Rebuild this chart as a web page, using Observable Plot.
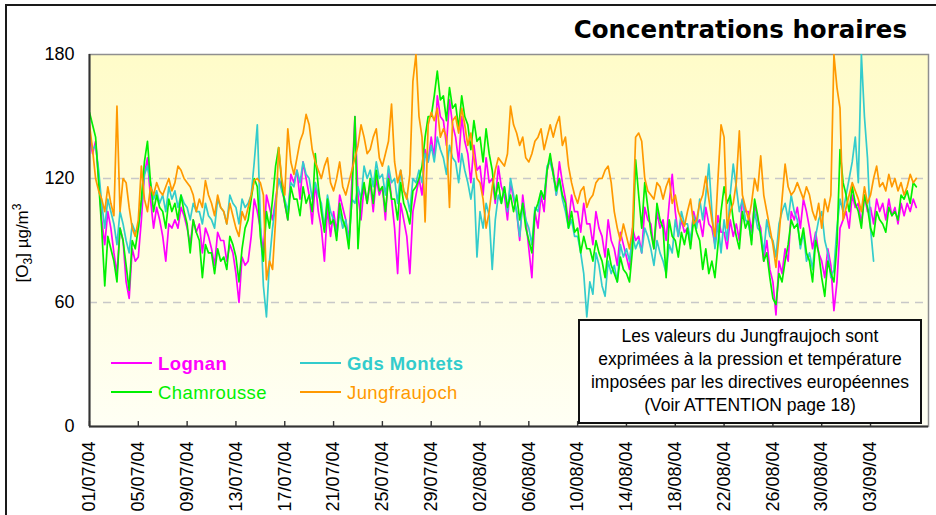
<!DOCTYPE html>
<html><head><meta charset="utf-8">
<script src="https://cdn.jsdelivr.net/npm/d3@7"></script>
<script src="https://cdn.jsdelivr.net/npm/@observablehq/plot@0.6"></script>
<style>html,body{margin:0;padding:0;background:#fff;overflow:hidden}svg{display:block}</style>
</head><body><div id="chart"></div>
<script>
// ---- data (values every 6 hours from 01/07/2004 00:00) ----
const stepHours = 6;
const seriesNames = ["Lognan", "Gds Montets", "Chamrousse", "Jungfraujoch"];
const seriesColors = ["#ff00ff", "#33cccc", "#00f000", "#ff9900"];

const lognan = [
140,132,138,120, 100,88,104,96, 84,74,96,90, 70,62,86,80, 82,100,122,130,
110,96,106,100, 92,80,98,96, 100,96,106,102, 96,88,100,94, 98,84,96,92,
86,78,94,90, 90,80,88,84, 74,60,82,78, 80,92,110,104, 96,84,112,106,
100,110,120,116, 108,100,122,118, 124,110,128,120, 112,98,118,104, 96,80,106,92,
104,94,112,106, 100,90,118,150, 112,100,116,108, 118,104,120,112, 116,100,124,110,
96,74,108,100, 92,74,104,112, 120,112,134,128, 140,130,160,150, 148,136,158,146,
140,128,150,138, 132,118,136,124, 126,112,130,118, 120,108,126,116, 112,100,118,110,
104,90,112,100, 86,72,104,96, 112,104,124,130, 124,112,128,118, 110,98,112,104,
104,94,108,98, 98,88,104,96, 92,82,100,90, 86,78,94,88, 82,76,96,90,
92,84,106,100, 98,86,104,96, 100,90,108,122, 104,92,100,94, 96,88,104,98,
100,92,106,98, 96,88,102,94, 94,86,100,92, 98,90,110,104, 104,94,108,100,
96,80,90,76, 70,54,80,74, 86,80,104,100, 106,96,110,104, 96,86,94,84,
80,72,86,78, 56,70,96,100, 104,96,112,106, 108,98,112,104, 106,98,110,104,
108,100,110,102, 106,98,108,102, 108,104,110,106
];
const gdsMontets = [
142,134,136,124, 108,96,110,104, 98,88,104,98, 90,84,98,94, 96,108,122,126,
118,110,114,108, 112,104,116,110, 114,106,112,108, 106,100,108,104, 104,98,108,102,
100,96,110,106, 104,98,112,108, 106,98,110,106, 108,112,128,146, 100,68,53,80,
96,108,120,114, 110,104,118,116, 124,118,128,122, 120,110,118,112, 108,96,112,104,
100,92,104,96, 100,88,110,108, 116,110,126,120, 124,116,128,120, 122,112,126,118,
120,108,124,114, 112,104,120,118, 124,118,132,128, 136,128,140,134, 130,122,136,130,
128,118,132,124, 118,110,120,82, 104,96,108,102, 76,100,112,108, 116,104,120,112,
104,92,108,100, 96,88,106,104, 114,110,126,128, 122,112,120,110, 104,96,100,92,
92,84,74,53, 70,64,84,78, 68,63,80,74, 78,70,88,82, 86,80,92,86,
90,84,96,92, 86,78,90,84, 80,74,88,84, 100,92,104,98, 98,90,102,96,
110,100,112,127, 104,86,98,84, 100,90,112,127, 116,104,110,100, 98,90,104,96,
94,84,100,92, 90,82,98,104, 108,100,112,104, 100,86,94,80, 84,76,92,100,
104,90,84,72, 76,96,110,104, 112,120,128,140, 118,180,150,130, 96,80
];
const chamrousse = [
152,146,140,118, 96,68,92,86, 80,70,96,90, 78,66,90,86, 96,110,128,138,
118,104,112,106, 104,96,110,104, 108,100,112,104, 98,84,100,94, 90,72,88,84,
84,74,86,80, 82,76,92,88, 82,70,86,96, 100,110,120,116, 92,80,104,96,
110,126,135,118, 108,100,116,110, 110,102,116,108, 112,104,132,116, 104,94,110,98,
100,90,108,100, 96,86,110,150, 86,110,118,108, 120,108,124,114, 116,104,120,110,
110,100,118,108, 104,98,114,116, 120,126,140,150, 150,160,172,158, 160,148,164,154,
156,144,160,150, 146,134,148,138, 140,128,144,132, 124,110,118,108, 116,106,112,104,
112,100,108,96, 90,84,104,108, 114,110,124,132, 122,114,120,112, 108,96,104,94,
96,84,92,86, 86,80,90,84, 80,72,86,78, 74,70,82,76, 74,70,86,129,
112,96,118,106, 94,86,108,100, 96,72,100,92, 90,82,94,88, 96,86,100,94,
90,76,86,74, 80,72,88,104, 116,108,112,100, 92,86,104,96, 100,88,110,102,
92,80,84,72, 62,59,74,70, 80,88,100,96, 98,88,96,84, 80,70,90,84,
72,63,80,74, 70,88,134,118, 112,104,116,108, 104,96,112,106, 96,92,104,100,
98,94,106,102, 104,100,112,110, 114,108,118,116
];
const jungfraujoch = [
146,134,120,114, 110,104,116,108, 102,155,104,120, 118,106,96,92, 100,126,110,104,
116,112,118,114, 112,116,120,114, 118,126,124,120, 118,116,112,104, 110,106,119,112,
108,102,112,106, 104,98,108,102, 96,92,104,100, 106,112,119,120, 118,112,71,80,
76,100,135,120, 112,144,128,122, 130,138,142,151, 146,134,128,124, 120,126,130,118,
114,120,128,116, 112,118,124,130, 136,146,140,132, 134,140,144,130, 126,132,138,156,
128,118,124,114, 110,122,167,180, 150,140,99,146, 152,148,154,140, 144,140,106,148,
150,142,154,146, 136,142,130,120, 118,110,96,104, 116,124,130,128, 126,132,155,146,
142,136,140,130, 128,132,138,140, 144,134,140,146, 140,146,150,136, 140,126,118,112,
108,114,116,106, 110,112,118,120, 120,124,126,118, 104,96,90,98, 92,86,96,140,
142,138,120,114, 112,110,118,116, 110,116,120,108, 112,104,100,97, 104,110,98,100,
108,112,121,110, 100,92,120,146, 140,96,104,108, 118,143,112,106, 100,108,120,114,
131,112,104,96, 88,77,92,110, 127,116,112,114, 118,114,110,116, 112,104,100,108,
96,110,104,112, 180,164,154,100, 106,112,118,114, 110,104,116,108, 112,120,126,116,
118,114,122,116, 120,114,118,112, 116,122,118,120
];
const yTicks = [0, 60, 120, 180];
const gridValues = [60, 120];
const xTickLabels = ["01/07/04","05/07/04","09/07/04","13/07/04","17/07/04","21/07/04","25/07/04","29/07/04",
  "02/08/04","06/08/04","10/08/04","14/08/04","18/08/04","22/08/04","26/08/04","30/08/04","03/09/04"];
const titleText = "Concentrations horaires";
const noteLines = ["Les valeurs du Jungfraujoch sont", "exprimées à la pression et température",
  "imposées par les directives européennes", "(Voir ATTENTION page 18)"];

// ---- build table ----
const t0 = Date.UTC(2004, 6, 1);
const tEnd = Date.UTC(2004, 8, 7, 18);
const rows = [];
[lognan, gdsMontets, chamrousse, jungfraujoch].forEach((arr, k) =>
  arr.forEach((v, i) => rows.push({series: seriesNames[k], date: new Date(t0 + i * stepHours * 3600e3), value: v})));
const parseTick = d3.utcParse("%d/%m/%y");
const tickDates = xTickLabels.map(parseTick);

const font = "'Liberation Sans', Arial, sans-serif";
const svg = Plot.plot({
  width: 936, height: 515,
  marginLeft: 89, marginRight: 8, marginTop: 54, marginBottom: 89,
  style: {fontFamily: font, background: "#fff", color: "#000"},
  x: {type: "utc", domain: [new Date(t0), new Date(tEnd)]},
  y: {domain: [0, 180]},
  color: {domain: seriesNames, range: seriesColors},
  marks: [
    Plot.frame({fill: "url(#bgGrad)", stroke: "#8f8f8f", strokeWidth: 1.5}),
    Plot.ruleY(gridValues, {stroke: "#c8c8c8", strokeWidth: 1.3, strokeDasharray: "8,6"}),
    Plot.line(rows, {x: "date", y: "value", z: "series", stroke: "series", strokeWidth: 1.7, clip: true}),
    Plot.ruleX([new Date(t0)], {stroke: "#333", strokeWidth: 2}),
    Plot.ruleY([0], {stroke: "#333", strokeWidth: 2}),
    Plot.ruleX(tickDates, {y1: 0, y2: 2.4, stroke: "#333", strokeWidth: 1.4}),
    Plot.axisY({ticks: yTicks, tickSize: 0, tickPadding: 15, fontSize: 18, label: null}),
    Plot.axisX({ticks: tickDates, tickFormat: (d, i) => xTickLabels[i], tickRotate: -90, tickSize: 0, tickPadding: 15, fontSize: 18, label: null})
  ]
});

const S = d3.select(svg);
S.insert("defs", ":first-child").html(
  '<linearGradient id="bgGrad" x1="0" y1="0" x2="0" y2="1">' +
  '<stop offset="0" stop-color="#fffcc9"/><stop offset="1" stop-color="#fffff4"/></linearGradient>');

// outer frame
S.append("path").attr("d", "M6,530V5H945").attr("fill", "none").attr("stroke", "#1a1a1a").attr("stroke-width", 2);

// title
S.append("text").attr("x", 907).attr("y", 38).attr("text-anchor", "end")
  .attr("font-family", "'DejaVu Sans', Verdana, sans-serif").attr("font-weight", "bold")
  .attr("font-size", 24.5).attr("fill", "#000").text(titleText);

// y-axis title
const yl = S.append("text").attr("transform", "translate(28,243) rotate(-90)")
  .attr("text-anchor", "middle").attr("font-family", font).attr("font-size", 17).attr("fill", "#000");
yl.append("tspan").text("[O");
yl.append("tspan").attr("dy", 4).attr("font-size", 12).text("3");
yl.append("tspan").attr("dy", -4).text("] µg/m");
yl.append("tspan").attr("dy", -7).attr("font-size", 12).text("3");

// legend
const legendPos = [
  {x: 111, y: 363, bold: true},
  {x: 300, y: 363, bold: true},
  {x: 111, y: 392, bold: false},
  {x: 300, y: 392, bold: false}
];
seriesNames.forEach((name, k) => {
  const p = legendPos[k];
  S.append("line").attr("x1", p.x).attr("x2", p.x + 41).attr("y1", p.y).attr("y2", p.y)
    .attr("stroke", seriesColors[k]).attr("stroke-width", 2);
  S.append("text").attr("x", p.x + 47).attr("y", p.y + 6.5).attr("text-anchor", "start")
    .attr("font-family", font).attr("font-size", 18.5).attr("letter-spacing", 0.4)
    .attr("font-weight", p.bold ? "bold" : "normal")
    .attr("fill", seriesColors[k]).text(name);
});

// note box
S.append("rect").attr("x", 579).attr("y", 320).attr("width", 342).attr("height", 103)
  .attr("fill", "#fff").attr("stroke", "#111").attr("stroke-width", 2);
noteLines.forEach((t, i) => {
  S.append("text").attr("x", 750).attr("y", 342 + i * 23).attr("text-anchor", "middle")
    .attr("font-family", font).attr("font-size", 17.5).attr("fill", "#000").text(t);
});

document.getElementById("chart").appendChild(svg);
</script>
</body></html>
